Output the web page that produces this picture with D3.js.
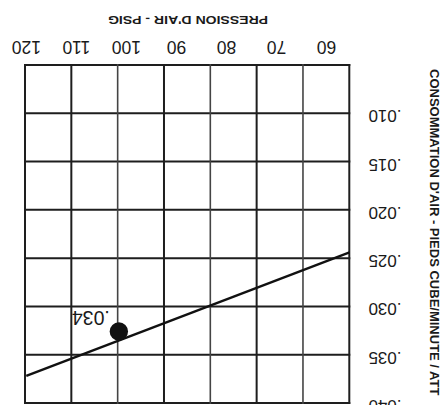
<!DOCTYPE html>
<html>
<head>
<meta charset="utf-8">
<script src="https://cdn.jsdelivr.net/npm/d3@7"></script>
<style>
  html, body { margin: 0; padding: 0; background: #fff; }
  svg { display: block; }
  text { font-family: "Liberation Sans", Arial, Helvetica, sans-serif; fill: #1a1a1a; }
</style>
</head>
<body>
<script>
// ---- data ----
const pressureTicks = [60, 70, 80, 90, 100, 110, 120];          // PSIG
const consumptionTicks = [0.010, 0.015, 0.020, 0.025, 0.030, 0.035, 0.040];
const consumptionGrid = [0.005, 0.010, 0.015, 0.020, 0.025, 0.030, 0.035, 0.040];
const gridColumns = [0, 1, 2, 3, 4, 5, 6, 7];
const linePressure = [120, 55.4];
const lineConsumption = [0.0372, 0.0244];
const pointPressure = [101.5];
const pointConsumption = [0.0326];
const pointLabels = [".034"];
const xTitle = "PRESSION D'AIR - PSIG";
const yTitle = "CONSOMMATION D'AIR - PIEDS CUBE/MINUTE / ATT";

// ---- layout (chart is shown rotated by 180 degrees) ----
const W = 445, H = 405;
const svg = d3.select("body").append("svg").attr("width", W).attr("height", H);

const plot = { left: 25, right: 349.3, top: 65, bottom: 403 };
const x = d3.scaleLinear().domain([60, 120]).range([326.5, 26.3]);
const col = d3.scaleLinear().domain([0, 7]).range([plot.left, plot.right]);
const y = d3.scaleLinear().domain([0.005, 0.040]).range([plot.top, plot.bottom]);

// clip
svg.append("defs").append("clipPath").attr("id", "plotclip")
  .append("rect").attr("x", plot.left).attr("y", plot.top)
  .attr("width", plot.right - plot.left).attr("height", plot.bottom - plot.top);

// grid: horizontal
svg.append("g").selectAll("line").data(consumptionGrid).join("line")
  .attr("x1", plot.left - 1).attr("x2", plot.right + 1)
  .attr("y1", d => y(d)).attr("y2", d => y(d))
  .attr("stroke", "#1e1e1e").attr("stroke-width", 2);

// grid: vertical
svg.append("g").selectAll("line").data(gridColumns).join("line")
  .attr("x1", d => col(d)).attr("x2", d => col(d))
  .attr("y1", plot.top - 1).attr("y2", plot.bottom + 1)
  .attr("stroke", d => (d === 2 || d === 4 || d === 6) ? "#444" : "#1e1e1e")
  .attr("stroke-width", d => (d === 2 || d === 4 || d === 6) ? 1.6 : 2);

// line
const lineData = linePressure.map((p, i) => ({ p, v: lineConsumption[i] }));
svg.append("path").datum(lineData)
  .attr("clip-path", "url(#plotclip)")
  .attr("fill", "none").attr("stroke", "#111").attr("stroke-width", 2.4)
  .attr("d", d3.line().x(d => x(d.p)).y(d => y(d.v)));

// point
const pts = pointPressure.map((p, i) => ({ p, v: pointConsumption[i], label: pointLabels[i] }));
svg.append("g").selectAll("circle").data(pts).join("circle")
  .attr("cx", d => x(d.p)).attr("cy", d => y(d.v)).attr("r", 9.2).attr("fill", "#111");
svg.append("g").selectAll("text").data(pts).join("text")
  .attr("x", d => x(d.p) - 28).attr("y", d => y(d.v) - 14)
  .attr("text-anchor", "middle").attr("dominant-baseline", "central")
  .attr("font-size", 19.5)
  .attr("transform", d => `rotate(180, ${x(d.p) - 28}, ${y(d.v) - 14})`)
  .text(d => d.label);

// x tick labels (top, upside down)
svg.append("g").selectAll("text").data(pressureTicks).join("text")
  .attr("x", d => x(d)).attr("y", 47)
  .attr("text-anchor", "middle").attr("dominant-baseline", "central")
  .attr("font-size", 17.5)
  .attr("transform", d => `rotate(180, ${x(d)}, 47)`)
  .text(d => d);

// y tick labels (right, upside down)
const fmt = v => d3.format(".3f")(v).replace(/^0/, "");
svg.append("g").selectAll("text").data(consumptionTicks).join("text")
  .attr("x", 385).attr("y", d => y(d) + 2.5)
  .attr("text-anchor", "middle").attr("dominant-baseline", "central")
  .attr("font-size", 17)
  .attr("transform", d => `rotate(180, 385, ${y(d) + 2.5})`)
  .text(fmt);

// x title
svg.append("text")
  .attr("x", 188).attr("y", 19.5)
  .attr("text-anchor", "middle").attr("dominant-baseline", "central")
  .attr("font-size", 10.5).attr("font-weight", "bold")
  .attr("textLength", 160).attr("lengthAdjust", "spacingAndGlyphs")
  .attr("transform", "rotate(180, 188, 19.5)")
  .text(xTitle);

// y title (reads top to bottom)
svg.append("text")
  .attr("transform", "translate(430, 69) rotate(90)")
  .attr("text-anchor", "start")
  .attr("font-size", 13).attr("font-weight", "bold")
  .text(yTitle);
</script>
</body>
</html>
